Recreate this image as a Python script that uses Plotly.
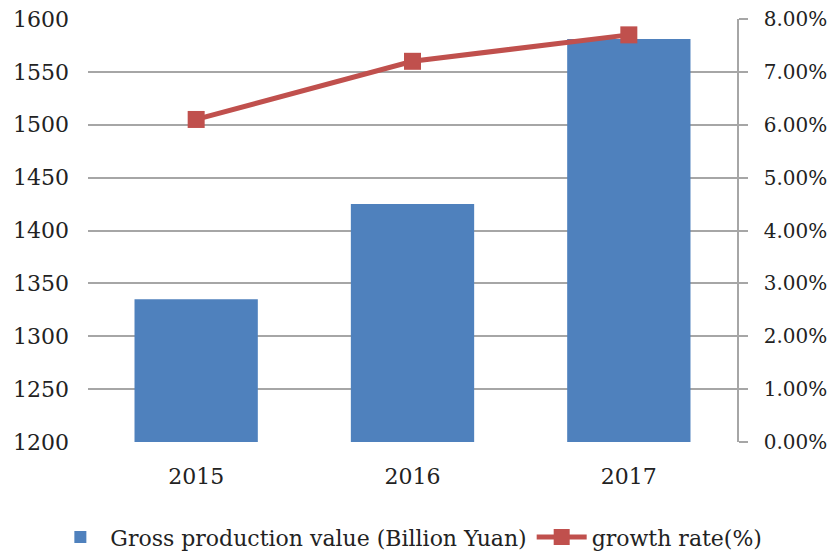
import plotly.graph_objects as go

# Chart data
years = ["2015", "2016", "2017"]
gross_value = [1335, 1425, 1581]          # Billion Yuan
growth_rate = [0.061, 0.072, 0.077]       # fraction

bar_color = "#4F81BD"
line_color = "#C0504D"
grid_color = "#A6A6A6"
font_family = "DejaVu Serif"

fig = go.Figure()

fig.add_trace(go.Bar(
    x=years, y=gross_value,
    name="Gross production value (Billion Yuan)",
    marker=dict(color=bar_color, line=dict(width=0)),
))

fig.add_trace(go.Scatter(
    x=years, y=growth_rate,
    name="growth rate(%)",
    mode="lines+markers",
    line=dict(color=line_color, width=5),
    marker=dict(symbol="square", size=17, color=line_color),
    yaxis="y2",
))

fig.update_layout(
    width=829, height=556,
    margin=dict(l=88, r=92, t=19, b=114, autoexpand=False),
    paper_bgcolor="white", plot_bgcolor="white",
    font=dict(family=font_family, size=20, color="#222222"),
    bargap=0.43,
    showlegend=True,
    legend=dict(orientation="h", x=-0.058, xanchor="left",
                y=-0.225, yanchor="middle",
                font=dict(size=22), tracegroupgap=0, itemwidth=50),
    xaxis=dict(showgrid=False, showline=False, ticks="", tickfont=dict(size=22),
               ticklabelstandoff=19, automargin=False),
    yaxis=dict(range=[1200, 1600], dtick=50, showgrid=True, gridcolor=grid_color,
               gridwidth=1.5, zeroline=False, showline=False, ticks="",
               tickfont=dict(size=22), ticklabelstandoff=18, automargin=False),
    yaxis2=dict(range=[0, 0.08], dtick=0.01, tickformat=".2%", overlaying="y",
                side="right", showgrid=False, zeroline=False, showline=True,
                linecolor=grid_color, linewidth=1.5, ticks="outside", ticklen=9,
                tickcolor=grid_color, tickwidth=1.5, tickfont=dict(size=20),
                ticklabelstandoff=12, automargin=False),
)

fig.write_html("out.html")
